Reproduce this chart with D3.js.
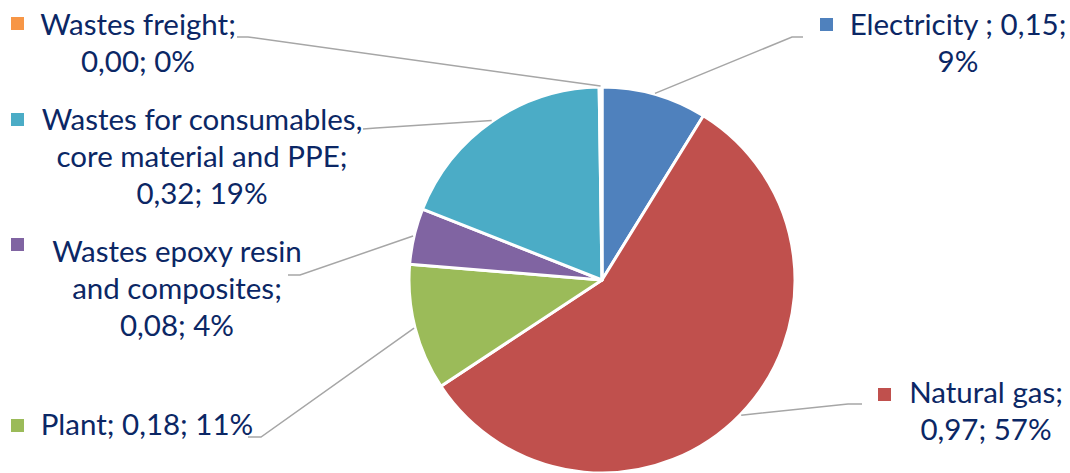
<!DOCTYPE html>
<html>
<head>
<meta charset="utf-8">
<script src="https://cdn.jsdelivr.net/npm/d3@7"></script>
<style>
  html, body { margin: 0; padding: 0; background: #fff; }
  svg text { font-family: Lato, "Open Sans", sans-serif; }
</style>
</head>
<body>
<div id="chart"></div>
<script>
// slice data, clockwise from 12 o'clock
const categories = ['Electricity ', 'Natural gas', 'Plant', 'Wastes epoxy resin and composites', 'Wastes for consumables, core material and PPE', 'Wastes freight'];
const values = [0.15, 0.97, 0.18, 0.08, 0.32, 0.004];
const shownValues = ['0,15', '0,97', '0,18', '0,08', '0,32', '0,00'];
const percents = [9, 57, 11, 4, 19, 0];
const colors = ['#4f81bd', '#c0504d', '#9bbb59', '#8064a2', '#4bacc6', '#f79646'];

// label layout: text centre x, first baseline, legend key, words per line, leader line start + elbow
const labelLayout = [
    { cx: 958, y: 35, key: [820, 18], words: [3, 1], line: [[803, 37], [792, 37]] },
    { cx: 986, y: 403, key: [878, 388], words: [2, 2], line: [[862, 404], [848, 404]] },
    { cx: 147, y: 435, key: [11, 419], words: [3], line: [[248, 437], [261, 437]] },
    { cx: 177, y: 262, key: [11, 238], words: [3, 2, 2], line: [[288, 275], [300, 275]] },
    { cx: 202, y: 130, key: [11, 113], words: [3, 4, 2], line: [[363, 129], [376, 128]] },
    { cx: 138, y: 35, key: [11, 17], words: [2, 2], line: [[237, 37], [248, 37]] }
];

const width = 1070, height = 473;
const cx = 602, cy = 280, radius = 193;
const lineHeight = 37;

const svg = d3.select('#chart').append('svg')
    .attr('width', width)
    .attr('height', height);

const pie = d3.pie().value(d => d).sort(null);
const arc = d3.arc().innerRadius(0).outerRadius(radius);
const arcs = pie(values);

const g = svg.append('g').attr('transform', `translate(${cx},${cy})`);

g.selectAll('path')
    .data(arcs)
    .enter()
    .append('path')
    .attr('d', arc)
    .attr('fill', (d, i) => colors[i])
    .attr('stroke', '#fff')
    .attr('stroke-width', 3)
    .attr('stroke-linejoin', 'round');

// leader lines: label -> elbow -> outer edge midpoint of slice
svg.selectAll('.leader')
    .data(arcs)
    .enter()
    .append('polyline')
    .attr('class', 'leader')
    .attr('fill', 'none')
    .attr('stroke', '#a6a6a6')
    .attr('stroke-width', 1.5)
    .attr('points', (d, i) => {
        const a = (d.startAngle + d.endAngle) / 2;
        const ex = cx + Math.sin(a) * (radius + 1);
        const ey = cy - Math.cos(a) * (radius + 1);
        const l = labelLayout[i].line;
        return [l[0], l[1], [ex, ey]].map(p => p.join(',')).join(' ');
    });

// data labels with legend key
const labels = svg.selectAll('.label')
    .data(categories)
    .enter()
    .append('g')
    .attr('class', 'label');

labels.append('rect')
    .attr('x', (d, i) => labelLayout[i].key[0])
    .attr('y', (d, i) => labelLayout[i].key[1])
    .attr('width', 13)
    .attr('height', 13)
    .attr('fill', (d, i) => colors[i]);

labels.each(function (d, i) {
    const full = `${d}; ${shownValues[i]}; ${percents[i]}%`;
    const words = full.split(/\s+/).filter(w => w.length);
    const lay = labelLayout[i];
    let k = 0;
    const lines = lay.words.map(n => {
        const s = words.slice(k, k + n).join(' ');
        k += n;
        return s;
    });
    d3.select(this).selectAll('text')
        .data(lines)
        .enter()
        .append('text')
        .attr('x', lay.cx)
        .attr('y', (t, j) => lay.y + j * lineHeight)
        .attr('text-anchor', 'middle')
        .attr('fill', '#0b2765')
        .style('font-size', '29.5px')
        .text(t => t);
});
</script>
</body>
</html>
